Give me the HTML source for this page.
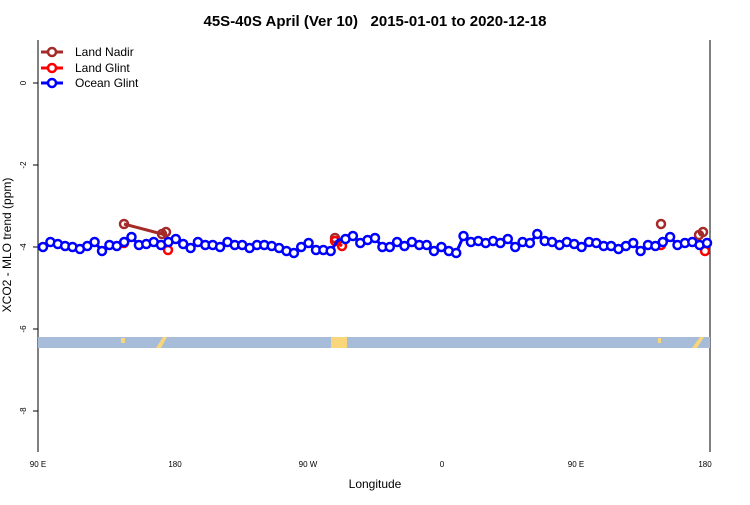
<!DOCTYPE html>
<html><head><style>body{margin:0;background:#fff}svg{font-family:"Liberation Sans",sans-serif}</style></head><body>
<svg width="750" height="500" xmlns="http://www.w3.org/2000/svg" xmlns:xlink="http://www.w3.org/1999/xlink">
<defs>
<circle id="b" r="4" fill="#fff" stroke="#00f" stroke-width="2.5"/>
<circle id="r" r="4" fill="none" stroke="#f00" stroke-width="2.5"/>
<circle id="n" r="4" fill="none" stroke="#a52a2a" stroke-width="2.5"/>
</defs>
<text x="375" y="26" text-anchor="middle" font-size="15" font-weight="bold" xml:space="preserve">45S-40S April (Ver 10)   2015-01-01 to 2020-12-18</text>
<line x1="38" y1="40" x2="38" y2="452" stroke="#000"/>
<line x1="710" y1="40" x2="710" y2="452" stroke="#000"/>
<g stroke="#000"><line x1="33" y1="83" x2="38" y2="83"/><line x1="33" y1="165" x2="38" y2="165"/><line x1="33" y1="247" x2="38" y2="247"/><line x1="33" y1="329" x2="38" y2="329"/><line x1="33" y1="411" x2="38" y2="411"/></g>
<g font-size="8" text-anchor="middle">
<text transform="translate(26,83) rotate(-90)">0</text>
<text transform="translate(26,165) rotate(-90)">-2</text>
<text transform="translate(26,247) rotate(-90)">-4</text>
<text transform="translate(26,329) rotate(-90)">-6</text>
<text transform="translate(26,411) rotate(-90)">-8</text>
<text x="38" y="467">90 E</text><text x="175" y="467">180</text><text x="308" y="467">90 W</text><text x="442" y="467">0</text><text x="576" y="467">90 E</text><text x="705" y="467">180</text>
</g>
<text transform="translate(11,245) rotate(-90)" font-size="12" text-anchor="middle">XCO2 - MLO trend (ppm)</text>
<text x="375" y="488" font-size="12" text-anchor="middle">Longitude</text>
<rect x="38" y="337" width="672" height="11" fill="#a7bcd9"/>
<g fill="#f9d67a"><rect x="121" y="338" width="4" height="5"/><path d="M156 348 L163 337 L167 337 L161 348Z"/><rect x="331" y="337" width="16" height="11"/><rect x="658" y="338" width="3" height="5"/><path d="M692 348 L700 337 L704 337 L697 348Z"/></g>

<polyline points="124,224 162,234 166,232" fill="none" stroke="#a52a2a" stroke-width="3"/>
<polyline points="699,235 703,232" fill="none" stroke="#a52a2a" stroke-width="3"/>
<use xlink:href="#n" x="124" y="224"/><use xlink:href="#n" x="162" y="234"/><use xlink:href="#n" x="166" y="232"/>
<use xlink:href="#n" x="335" y="238"/><use xlink:href="#n" x="661" y="224"/><use xlink:href="#n" x="699" y="235"/><use xlink:href="#n" x="703" y="232"/>
<polyline points="335,241 342,246" fill="none" stroke="#f00" stroke-width="3"/>
<use xlink:href="#r" x="124" y="243"/><use xlink:href="#r" x="168" y="250"/><use xlink:href="#r" x="335" y="241"/><use xlink:href="#r" x="342" y="246"/><use xlink:href="#r" x="661" y="245"/><use xlink:href="#r" x="705" y="251"/>

<polyline fill="none" stroke="#00f" stroke-width="3" points="43,247 50.4,242 57.8,244 65.1,246 72.5,247 79.9,249 87.3,246 94.6,242 102,251 109.4,245 116.8,246 124.2,242 131.5,237 138.9,245 146.3,244 153.7,242 161,245 168.4,242 175.8,239 183.2,244 190.6,248 197.9,242 205.3,245 212.7,245 220.1,247 227.5,242 234.8,245 242.2,245 249.6,248 257,245 264.3,245 271.7,246 279.1,248 286.5,251 293.9,253 301.2,247 308.6,243 316,250 323.4,250 330.7,251 338.1,240 345.5,239 352.9,236 360.3,243 367.6,240 375,238 382.4,247 389.8,247 397.1,242 404.5,246 411.9,242 419.3,245 426.7,245 434,251 441.4,247 448.8,251 456.2,253 463.5,236 470.9,242 478.3,241 485.7,243 493.1,241 500.4,243 507.8,239 515.2,247 522.6,242 529.9,243 537.3,234 544.7,241 552.1,242 559.5,245 566.8,242 574.2,244 581.6,247 589,242 596.3,243 603.7,246 611.1,246 618.5,249 625.9,246 633.2,243 640.6,251 648,245 655.4,246 662.8,242 670.1,237 677.5,245 684.9,243 692.3,242 699.6,245 707,243"/>
<g>
<use xlink:href="#b" x="43" y="247"/><use xlink:href="#b" x="50.4" y="242"/><use xlink:href="#b" x="57.8" y="244"/><use xlink:href="#b" x="65.1" y="246"/><use xlink:href="#b" x="72.5" y="247"/><use xlink:href="#b" x="79.9" y="249"/><use xlink:href="#b" x="87.3" y="246"/><use xlink:href="#b" x="94.6" y="242"/><use xlink:href="#b" x="102" y="251"/><use xlink:href="#b" x="109.4" y="245"/>
<use xlink:href="#b" x="116.8" y="246"/><use xlink:href="#b" x="124.2" y="242"/><use xlink:href="#b" x="131.5" y="237"/><use xlink:href="#b" x="138.9" y="245"/><use xlink:href="#b" x="146.3" y="244"/><use xlink:href="#b" x="153.7" y="242"/><use xlink:href="#b" x="161" y="245"/><use xlink:href="#b" x="168.4" y="242"/><use xlink:href="#b" x="175.8" y="239"/><use xlink:href="#b" x="183.2" y="244"/>
<use xlink:href="#b" x="190.6" y="248"/><use xlink:href="#b" x="197.9" y="242"/><use xlink:href="#b" x="205.3" y="245"/><use xlink:href="#b" x="212.7" y="245"/><use xlink:href="#b" x="220.1" y="247"/><use xlink:href="#b" x="227.5" y="242"/><use xlink:href="#b" x="234.8" y="245"/><use xlink:href="#b" x="242.2" y="245"/><use xlink:href="#b" x="249.6" y="248"/><use xlink:href="#b" x="257" y="245"/>
<use xlink:href="#b" x="264.3" y="245"/><use xlink:href="#b" x="271.7" y="246"/><use xlink:href="#b" x="279.1" y="248"/><use xlink:href="#b" x="286.5" y="251"/><use xlink:href="#b" x="293.9" y="253"/><use xlink:href="#b" x="301.2" y="247"/><use xlink:href="#b" x="308.6" y="243"/><use xlink:href="#b" x="316" y="250"/><use xlink:href="#b" x="323.4" y="250"/><use xlink:href="#b" x="330.7" y="251"/>
<use xlink:href="#b" x="345.5" y="239"/><use xlink:href="#b" x="352.9" y="236"/><use xlink:href="#b" x="360.3" y="243"/><use xlink:href="#b" x="367.6" y="240"/><use xlink:href="#b" x="375" y="238"/><use xlink:href="#b" x="382.4" y="247"/><use xlink:href="#b" x="389.8" y="247"/><use xlink:href="#b" x="397.1" y="242"/><use xlink:href="#b" x="404.5" y="246"/>
<use xlink:href="#b" x="411.9" y="242"/><use xlink:href="#b" x="419.3" y="245"/><use xlink:href="#b" x="426.7" y="245"/><use xlink:href="#b" x="434" y="251"/><use xlink:href="#b" x="441.4" y="247"/><use xlink:href="#b" x="448.8" y="251"/><use xlink:href="#b" x="456.2" y="253"/><use xlink:href="#b" x="463.5" y="236"/><use xlink:href="#b" x="470.9" y="242"/><use xlink:href="#b" x="478.3" y="241"/>
<use xlink:href="#b" x="485.7" y="243"/><use xlink:href="#b" x="493.1" y="241"/><use xlink:href="#b" x="500.4" y="243"/><use xlink:href="#b" x="507.8" y="239"/><use xlink:href="#b" x="515.2" y="247"/><use xlink:href="#b" x="522.6" y="242"/><use xlink:href="#b" x="529.9" y="243"/><use xlink:href="#b" x="537.3" y="234"/><use xlink:href="#b" x="544.7" y="241"/><use xlink:href="#b" x="552.1" y="242"/>
<use xlink:href="#b" x="559.5" y="245"/><use xlink:href="#b" x="566.8" y="242"/><use xlink:href="#b" x="574.2" y="244"/><use xlink:href="#b" x="581.6" y="247"/><use xlink:href="#b" x="589" y="242"/><use xlink:href="#b" x="596.3" y="243"/><use xlink:href="#b" x="603.7" y="246"/><use xlink:href="#b" x="611.1" y="246"/><use xlink:href="#b" x="618.5" y="249"/><use xlink:href="#b" x="625.9" y="246"/>
<use xlink:href="#b" x="633.2" y="243"/><use xlink:href="#b" x="640.6" y="251"/><use xlink:href="#b" x="648" y="245"/><use xlink:href="#b" x="655.4" y="246"/><use xlink:href="#b" x="662.8" y="242"/><use xlink:href="#b" x="670.1" y="237"/><use xlink:href="#b" x="677.5" y="245"/><use xlink:href="#b" x="684.9" y="243"/><use xlink:href="#b" x="692.3" y="242"/><use xlink:href="#b" x="699.6" y="245"/><use xlink:href="#b" x="707" y="243"/>
</g>
<g font-size="12">
<line x1="41" y1="52" x2="63" y2="52" stroke="#a52a2a" stroke-width="3"/><circle cx="52" cy="52" r="4" fill="#fff" stroke="#a52a2a" stroke-width="2.5"/><text x="75" y="56">Land Nadir</text>
<line x1="41" y1="68" x2="63" y2="68" stroke="#f00" stroke-width="3"/><circle cx="52" cy="68" r="4" fill="#fff" stroke="#f00" stroke-width="2.5"/><text x="75" y="72">Land Glint</text>
<line x1="41" y1="83" x2="63" y2="83" stroke="#00f" stroke-width="3"/><circle cx="52" cy="83" r="4" fill="#fff" stroke="#00f" stroke-width="2.5"/><text x="75" y="87">Ocean Glint</text>
</g>
</svg>
</body></html>
